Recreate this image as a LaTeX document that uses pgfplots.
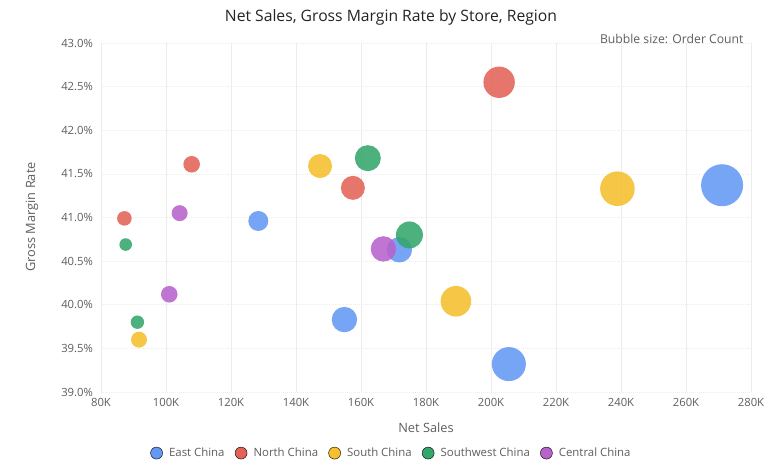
\documentclass[border=0pt]{standalone}
\usepackage{pgfplots}
\pgfplotsset{compat=1.18}
\usepackage{pgfplotstable}
\usepackage{fontspec}
\setmainfont{Open Sans}

\definecolor{eastc}{RGB}{99,152,245}
\definecolor{northc}{RGB}{226,98,88}
\definecolor{southc}{RGB}{245,191,45}
\definecolor{swc}{RGB}{52,166,107}
\definecolor{centralc}{RGB}{184,98,204}
\definecolor{titlec}{RGB}{37,36,35}
\definecolor{labelc}{RGB}{96,94,92}
\definecolor{gridc}{RGB}{236,236,236}

% Net sales, gross margin rate (%), order count per store
\pgfplotstableread{
sales  gmr    orders
128400 40.96  400
154900 39.83  645
171800 40.63  645
205500 39.32  1156
271100 41.37  1764
}\east
\pgfplotstableread{
sales  gmr    orders
87200  40.99  213
107900 41.61  276
157500 41.34  576
202500 42.55  986
}\north
\pgfplotstableread{
sales  gmr    orders
91700  39.60  256
147400 41.59  576
189200 40.04  936
238900 41.33  1197
}\south
\pgfplotstableread{
sales  gmr    orders
87600  40.69  159
91200  39.80  180
162100 41.68  676
174900 40.80  729
}\southwest
\pgfplotstableread{
sales  gmr    orders
104200 41.05  256
101000 40.12  276
166900 40.64  645
}\central

% bubble radius grows with the square root of the order count
\pgfplotsset{
  bubble/.style={
    scatter, only marks, mark=*, forget plot,
    fill opacity=0.88, draw opacity=0,
    scatter/use mapped color={draw=none, fill=#1},
    visualization depends on={sqrt(\thisrow{orders})/2 \as \perpointmarksize},
    scatter/@pre marker code/.append style={/tikz/mark size=\perpointmarksize},
  },
}

\begin{document}
\begin{tikzpicture}[x=1pt,y=1pt]
\useasboundingbox (0,0) rectangle (778,471);
\begin{axis}[
  at={(101pt,79pt)}, anchor=south west,
  width=650pt, height=349pt, scale only axis,
  xmin=80000, xmax=280000, ymin=39, ymax=43,
  scaled x ticks=false,
  xtick={80000,100000,...,280000},
  xticklabels={80K,100K,120K,140K,160K,180K,200K,220K,240K,260K,280K},
  ytick={39,39.5,...,43},
  yticklabels={39.0\%,39.5\%,40.0\%,40.5\%,41.0\%,41.5\%,42.0\%,42.5\%,43.0\%},
  axis line style={draw=none},
  major tick style={draw=none},
  xmajorgrids, ymajorgrids,
  x grid style={gridc, line width=0.6pt},
  y grid style={gridc, line width=0.6pt, dash pattern=on 1pt off 1pt},
  ticklabel style={font=\fontsize{11.3}{13}\selectfont, text=labelc},
  xticklabel style={yshift=-3pt},
  yticklabel style={xshift=-4.5pt},
  legend columns=5,
  legend style={at={(0.447,-0.175)}, anchor=center, draw=none,
    font=\fontsize{11.4}{14}\selectfont, text=labelc,
    /tikz/every odd column/.append style={column sep=4.5pt},
    /tikz/every even column/.append style={column sep=8.5pt}},
  legend cell align=left,
]
\addplot[bubble=eastc] table[x=sales,y=gmr] {\east};
\addplot[bubble=northc] table[x=sales,y=gmr] {\north};
\addplot[bubble=southc] table[x=sales,y=gmr] {\south};
\addplot[bubble=swc] table[x=sales,y=gmr] {\southwest};
\addplot[bubble=centralc] table[x=sales,y=gmr] {\central};

\addlegendimage{only marks, mark=*, mark size=6pt, draw=none, fill=eastc}
\addlegendentry{East China}
\addlegendimage{only marks, mark=*, mark size=6pt, draw=none, fill=northc}
\addlegendentry{North China}
\addlegendimage{only marks, mark=*, mark size=6pt, draw=none, fill=southc}
\addlegendentry{South China}
\addlegendimage{only marks, mark=*, mark size=6pt, draw=none, fill=swc}
\addlegendentry{Southwest China}
\addlegendimage{only marks, mark=*, mark size=6pt, draw=none, fill=centralc}
\addlegendentry{Central China}
\end{axis}

\node[text=titlec, font=\fontsize{15.7}{18}\selectfont] at (391,454) {Net Sales, Gross Margin Rate by Store, Region};
\node[text=labelc, font=\fontsize{12.2}{14}\selectfont, anchor=east] at (747,432) {Bubble size: Order Count};
\node[text=labelc, font=\fontsize{12.8}{15}\selectfont] at (426,43) {Net Sales};
\node[text=labelc, font=\fontsize{12.8}{15}\selectfont, rotate=90] at (32,254) {Gross Margin Rate};
\end{tikzpicture}
\end{document}
